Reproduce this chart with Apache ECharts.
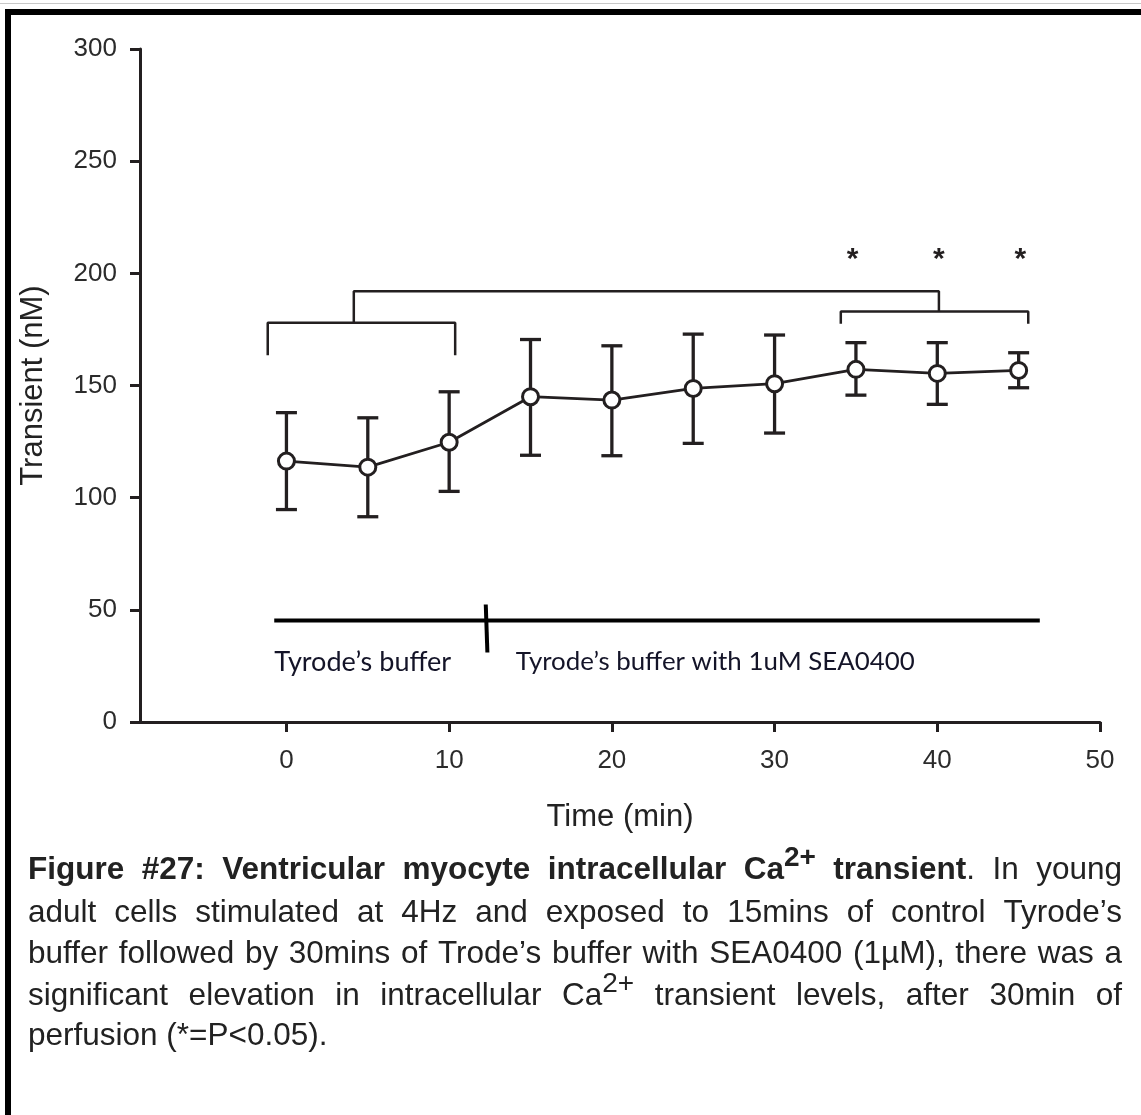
<!DOCTYPE html>
<html>
<head>
<meta charset="utf-8">
<script src="https://cdn.jsdelivr.net/npm/echarts@6/dist/echarts.min.js"></script>
<style>
html,body{margin:0;padding:0;background:#fff;}
#chart{width:1141px;height:1115px;}
</style>
</head>
<body>
<div id="chart"></div>
<script>
// ---------- data ----------
const timePoints = [0, 5, 10, 15, 20, 25, 30, 35, 40, 45];
const meanValues = [116.3, 113.6, 124.7, 145.0, 143.5, 148.7, 150.8, 157.2, 155.4, 156.7];
const upperValues = [137.9, 135.6, 147.2, 170.5, 167.7, 172.9, 172.5, 169.1, 169.1, 164.6];
const lowerValues = [94.7, 91.5, 102.8, 118.9, 118.7, 124.2, 128.8, 145.7, 141.6, 149.0];
const xTicks = [0, 10, 20, 30, 40, 50];
const yTicks = [0, 50, 100, 150, 200, 250, 300];

// significance brackets (data coordinates)
const bracketLeft = [[-1.15, 163.5], [-1.15, 178.0], [10.37, 178.0], [10.37, 163.5]];
const bracketRight = [[34.07, 177.5], [34.07, 183.0], [45.59, 183.0], [45.59, 177.5]];
const bracketTop = [[4.14, 178.0], [4.14, 192.0], [40.1, 192.0], [40.1, 183.0]];
const starPoints = [[34.8, 207.9], [40.1, 207.9], [45.1, 207.9]];

// perfusion timeline
const bufferLine = [[-0.75, 45.25], [46.3, 45.25]];
const bufferSwitch = [[12.25, 52.4], [12.35, 31.0]];
const bufferLabels = [
  { x: -0.75, y: 26.8, text: 'Tyrode\u2019s buffer', width: 177 },
  { x: 14.1, y: 26.8, text: 'Tyrode\u2019s buffer with 1uM SEA0400', width: 399 }
];

// caption (b = bold, n = normal, s = superscript, bs = bold superscript)
const captionLines = [
  'b:Figure b:#27: b:Ventricular b:myocyte b:intracellular b:Ca|bs:2+ b:transient|n:. n:In n:young',
  'n:adult n:cells n:stimulated n:at n:4Hz n:and n:exposed n:to n:15mins n:of n:control n:Tyrode\u2019s',
  'n:buffer n:followed n:by n:30mins n:of n:Trode\u2019s n:buffer n:with n:SEA0400 n:(1\u00b5M), n:there n:was n:a',
  'n:significant n:elevation n:in n:intracellular n:Ca|s:2+ n:transient n:levels, n:after n:30min n:of',
  'n:perfusion n:(*=P<0.05).'
];
const captionY = [870, 913, 954, 996, 1036];

// ---------- layout helpers ----------
const INK = '#231f20';
const FONT = '"Liberation Sans", Arial, sans-serif';
const CAP = 31.5, SUP = 28, SUP_RAISE = 12;
const cvs = document.createElement('canvas');
const ctx = cvs.getContext('2d');
function fontStr(bold, size, fam) { return (bold ? 'bold ' : '') + size + 'px ' + (fam || FONT); }
function measure(t, f) { ctx.font = f; return ctx.measureText(t).width; }

const graphics = [];
// frame
graphics.push({ type: 'rect', shape: { x: 0, y: 3, width: 1141, height: 1 }, style: { fill: '#c8c8c8' } });
graphics.push({ type: 'rect', shape: { x: 5, y: 9, width: 1136, height: 6 }, style: { fill: '#000' } });
graphics.push({ type: 'rect', shape: { x: 5, y: 9, width: 6, height: 1106 }, style: { fill: '#000' } });

// caption
const capLeft = 28, capRight = 1122;
captionLines.forEach((line, li) => {
  const words = line.split(' ').map(w => w.split('|').map(seg => {
    const i = seg.indexOf(':');
    const kind = seg.slice(0, i), text = seg.slice(i + 1);
    const bold = kind === 'b' || kind === 'bs';
    const sup = kind === 's' || kind === 'bs';
    const f = fontStr(bold, sup ? SUP : CAP);
    return { text, f, sup, w: measure(text, f) };
  }));
  const widths = words.map(ws => ws.reduce((a, s) => a + s.w, 0));
  const total = widths.reduce((a, b) => a + b, 0);
  const last = li === captionLines.length - 1;
  const gap = last ? measure(' ', fontStr(false, CAP)) : (capRight - capLeft - total) / (words.length - 1);
  let x = capLeft;
  words.forEach((ws, wi) => {
    ws.forEach(s => {
      graphics.push({
        type: 'text', x: x, y: captionY[li] - (s.sup ? SUP_RAISE : 0),
        style: { text: s.text, font: s.f, fill: '#222', align: 'left', verticalAlign: 'middle' }
      });
      x += s.w;
    });
    x += gap;
  });
});

// fit annotation font to the reference widths
const ANN_FAM = 'Lato, "Open Sans", sans-serif';
bufferLabels.forEach(b => {
  b.size = 26 * b.width / measure(b.text, fontStr(false, 26, ANN_FAM));
});

const chart = echarts.init(document.getElementById('chart'), null, { renderer: 'canvas' });

const lineStyleInk = (w) => ({ color: INK, width: w });

const option = {
  animation: false,
  backgroundColor: '#fff',
  grid: { left: 140, right: 41, top: 49, bottom: 393, containLabel: false },
  xAxis: {
    type: 'value', min: -9, max: 50,
    name: 'Time (min)', nameLocation: 'middle', nameGap: 80,
    nameTextStyle: { fontSize: 31, color: '#222', fontFamily: FONT },
    axisLine: { show: true, onZero: false, lineStyle: { color: INK, width: 3 } },
    axisTick: { show: true, customValues: xTicks, length: 10, lineStyle: { color: INK, width: 3 } },
    axisLabel: { customValues: xTicks, fontSize: 26, color: '#2b2b2b', margin: 26, fontFamily: FONT },
    splitLine: { show: false }
  },
  yAxis: {
    type: 'value', min: 0, max: 300, interval: 50,
    name: 'Transient (nM)', nameLocation: 'middle', nameGap: 91,
    nameTextStyle: { fontSize: 31, color: '#222', fontFamily: FONT },
    axisLine: { show: true, onZero: false, lineStyle: { color: INK, width: 3 } },
    axisTick: { show: true, length: 10, lineStyle: { color: INK, width: 3 } },
    axisLabel: { fontSize: 26, color: '#2b2b2b', margin: 23, fontFamily: FONT, padding: [3, 0, 0, 0] },
    splitLine: { show: false }
  },
  graphic: graphics,
  series: [
    {
      type: 'custom', name: 'error', z: 1,
      data: timePoints.map((t, i) => [t, lowerValues[i], upperValues[i]]),
      encode: { x: 0, y: [1, 2] },
      renderItem: (params, api) => {
        const x = api.value(0);
        const lo = api.coord([x, api.value(1)]);
        const hi = api.coord([x, api.value(2)]);
        const hw = 10.5;
        const st = { stroke: INK, lineWidth: 3.3 };
        return {
          type: 'group', children: [
            { type: 'line', shape: { x1: hi[0], y1: hi[1], x2: lo[0], y2: lo[1] }, style: st },
            { type: 'line', shape: { x1: hi[0] - hw, y1: hi[1], x2: hi[0] + hw, y2: hi[1] }, style: st },
            { type: 'line', shape: { x1: lo[0] - hw, y1: lo[1], x2: lo[0] + hw, y2: lo[1] }, style: st }
          ]
        };
      }
    },
    {
      type: 'line', name: 'mean', z: 3,
      data: timePoints.map((t, i) => [t, meanValues[i]]),
      symbol: 'circle', symbolSize: 16,
      lineStyle: lineStyleInk(2.8),
      itemStyle: { color: '#fff', borderColor: INK, borderWidth: 3 }
    },
    { type: 'line', data: bracketLeft, symbol: 'none', lineStyle: lineStyleInk(2.5), z: 2 },
    { type: 'line', data: bracketRight, symbol: 'none', lineStyle: lineStyleInk(2.5), z: 2 },
    { type: 'line', data: bracketTop, symbol: 'none', lineStyle: lineStyleInk(2.5), z: 2 },
    { type: 'line', data: bufferLine, symbol: 'none', lineStyle: { color: '#000', width: 4 }, z: 2 },
    { type: 'line', data: bufferSwitch, symbol: 'none', lineStyle: { color: '#000', width: 4 }, z: 2 },
    {
      type: 'custom', name: 'stars', z: 4,
      data: starPoints,
      renderItem: (params, api) => {
        const p = api.coord([api.value(0), api.value(1)]);
        return { type: 'text', x: p[0], y: p[1] + 4,
          style: { text: '*', font: fontStr(true, 30), fill: INK, align: 'center', verticalAlign: 'middle' } };
      }
    },
    {
      type: 'custom', name: 'bufferText', z: 4,
      data: bufferLabels.map(b => [b.x, b.y]),
      renderItem: (params, api) => {
        const b = bufferLabels[params.dataIndex];
        const p = api.coord([api.value(0), api.value(1)]);
        return { type: 'text', x: p[0], y: p[1],
          style: { text: b.text, font: fontStr(false, b.size.toFixed(2), ANN_FAM), fill: '#141428', align: 'left', verticalAlign: 'middle' } };
      }
    }
  ]
};
chart.setOption(option);
</script>
</body>
</html>
